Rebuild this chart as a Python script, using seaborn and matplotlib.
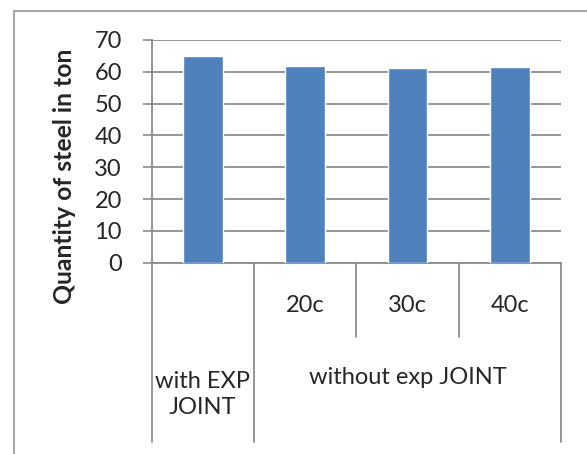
import numpy as np
import pandas as pd
import matplotlib
matplotlib.use("Agg")
import matplotlib.pyplot as plt
import matplotlib.transforms as mtransforms
from matplotlib.patches import Rectangle
import seaborn as sns

# dados
categorias = ["with EXP JOINT", "20c", "30c", "40c"]
rotulos_nivel1 = ["", "20c", "30c", "40c"]
grupos = ["with EXP\nJOINT", "without exp JOINT"]
grupo_inicio = [0, 1]
grupo_fim = [0, 3]
quantidade_aco = [65.0, 61.9, 61.2, 61.5]
y_ticks = [0, 10, 20, 30, 40, 50, 60, 70]

sns.set_style("white")
plt.rcParams['font.family'] = ['Lato', 'DejaVu Sans']

cor_barra = '#4f81bd'
cor_linha = '#8c8c8c'
tam_fonte = 17

df = pd.DataFrame({'cat': categorias, 'valor': quantidade_aco})

fig = plt.figure(figsize=(5.87, 4.54), dpi=100)
ax = fig.add_axes([151.7 / 587, 1 - 262.7 / 454, (561 - 151.7) / 587, (262.7 - 40) / 454])

sns.barplot(data=df, x='cat', y='valor', color=cor_barra, width=0.39,
            saturation=1, ax=ax, zorder=3)

ax.set_xlim(-0.5, len(categorias) - 0.5)
ax.set_ylim(0, 70)
ax.set_yticks(y_ticks)
ax.set_yticklabels([str(v) for v in y_ticks], fontsize=tam_fonte)
ax.yaxis.grid(True, color=cor_linha, linewidth=1.3, zorder=0)
ax.set_axisbelow(True)
ax.tick_params(axis='y', direction='out', length=6.5, width=1.2, color=cor_linha, pad=15, left=True)
ax.set_xticks([])
ax.set_xlabel('')
ax.set_ylabel('')

# titulo do eixo y (no Excel fica um pouco abaixo do centro)
ax.text(-0.212, 0.389, 'Quantity of steel in ton', transform=ax.transAxes,
        rotation=90, ha='center', va='center', fontsize=17.8, fontweight='bold')

for lado in ['top', 'right']:
    ax.spines[lado].set_visible(False)
for lado in ['left', 'bottom']:
    ax.spines[lado].set_color(cor_linha)
    ax.spines[lado].set_linewidth(1.3)

# eixo de categorias em dois niveis (estilo Excel)
trans = mtransforms.blended_transform_factory(ax.transData, ax.transAxes)
y_curto = -0.334
y_longo = -0.805
limites = [g - 0.5 for g in grupo_inicio] + [grupo_fim[-1] + 0.5]
for i in range(len(categorias) + 1):
    x = i - 0.5
    comprimento = y_longo if x in limites else y_curto
    ax.plot([x, x], [0, comprimento], transform=trans, color=cor_linha,
            linewidth=1.3, clip_on=False)

for i, rot in enumerate(rotulos_nivel1):
    ax.text(i, -0.19, rot, transform=trans, ha='center', va='center', fontsize=tam_fonte)

for nome, ini, fim in zip(grupos, grupo_inicio, grupo_fim):
    ax.text((ini + fim) / 2, -0.59 if ini == fim else -0.517, nome, transform=trans,
            ha='center', va='center', fontsize=tam_fonte, linespacing=1.3)

# moldura do grafico
fig.patches.append(Rectangle((14 / 587, -0.1), 1.2, 1 - 11 / 454 + 0.1,
                             transform=fig.transFigure, fill=False,
                             edgecolor='#a6a6a6', linewidth=1.5))

fig.savefig('out.png', dpi=100)
